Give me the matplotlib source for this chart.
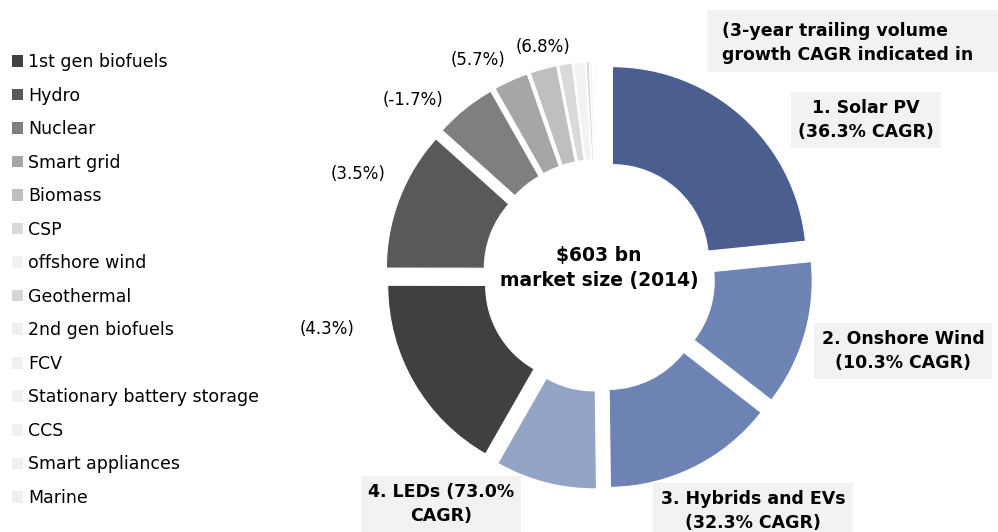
import numpy as np
import matplotlib
matplotlib.use("Agg")
import matplotlib.pyplot as plt
from matplotlib.patches import Patch, Rectangle

# market size by technology, $bn (2014), clockwise from 12 o'clock
technologies = ["Solar PV", "Onshore Wind", "Hybrids and EVs", "LEDs",
                "1st gen biofuels", "Hydro", "Nuclear", "Smart grid", "Biomass",
                "CSP", "offshore wind", "Geothermal", "2nd gen biofuels", "FCV",
                "Stationary battery storage", "CCS", "Smart appliances", "Marine"]
market_size = [141, 73, 86, 51, 101, 70, 31, 17.5, 13.5, 6.7, 5.9,
               1.6, 1.2, 0.5, 0.8, 0.7, 0.6, 0.5]
colours = ["#4a5e8f", "#6d84b4", "#6d83b4", "#93a4c7",
           "#404040", "#595959", "#7f7f7f", "#a6a6a6", "#bfbfbf",
           "#d9d9d9", "#f2f2f2", "#d6d6d6", "#f0f0f0", "#f0f0f0",
           "#f0f0f0", "#f0f0f0", "#f0f0f0", "#f0f0f0"]

# top 4 labels with CAGR
top_labels = ["1. Solar PV\n(36.3% CAGR)", "2. Onshore Wind\n(10.3% CAGR)",
              "3. Hybrids and EVs\n(32.3% CAGR)", "4. LEDs (73.0%\nCAGR)"]
# CAGR for the grey ones
grey_cagr = ["(4.3%)", "(3.5%)", "(-1.7%)", "(5.7%)", "(6.8%)"]

W, H = 998, 532
fig = plt.figure(figsize=(W / 100, H / 100), dpi=100)

# pie axes: 1 data unit = 194 px, centre at (599, 275.5) px from top-left
R = 194.0
cx, cy = 599.0, 275.5
ax = fig.add_axes([0, 0, 1, 1])
ax.pie(market_size, colors=colours, startangle=90, counterclock=False,
       explode=[0.103] * len(market_size),
       wedgeprops=dict(width=0.505, edgecolor="white", linewidth=0.8))
ax.set_xlim(-cx / R, (W - cx) / R)
ax.set_ylim(-(H - cy) / R, cy / R)
ax.set_aspect("auto")
ax.axis("off")

def px(x, y):
    # pixel (from top-left) -> pie data coords
    return (x - cx) / R, (cy - y) / R

# centre text
ax.text(*px(599, 268), "\\$603 bn\nmarket size (2014)", ha="center", va="center",
        fontsize=13.5, fontweight="bold", linespacing=1.45)

# labels for the top 4
box = dict(boxstyle="square,pad=0.42", facecolor="#f2f2f2", edgecolor="none")
label_pos = [(866, 120), (903, 351), (753, 511), (441, 504)]
for lab, (x, y) in zip(top_labels, label_pos):
    ax.text(*px(x, y), lab, ha="center", va="center", fontsize=12.5,
            fontweight="bold", bbox=box, linespacing=1.45)

# grey CAGR labels
grey_pos = [(327, 329), (358, 174), (413, 100), (478, 60), (543, 47)]
for lab, (x, y) in zip(grey_cagr, grey_pos):
    ax.text(*px(x, y), lab, ha="center", va="center", fontsize=12)

# note box top right
fig.patches.append(Rectangle((707 / W, 1 - 72 / H), (W - 707) / W, 62 / H,
                             transform=fig.transFigure, facecolor="#f2f2f2",
                             edgecolor="none", zorder=0))
fig.text(722 / W, 1 - 43 / H, "(3-year trailing volume\ngrowth CAGR indicated in",
         ha="left", va="center", fontsize=12.5, fontweight="bold", linespacing=1.5)

# legend for the grey ones
handles = [Patch(facecolor=c, edgecolor="none") for c in colours[4:]]
fig.legend(handles, technologies[4:], loc="upper left",
           bbox_to_anchor=(12 / W, 1 - 53 / H), frameon=False, fontsize=12.5,
           handlelength=0.65, handleheight=0.65, handletextpad=0.3,
           labelspacing=0.895, borderpad=0, borderaxespad=0)

fig.savefig("out.png", dpi=100)
